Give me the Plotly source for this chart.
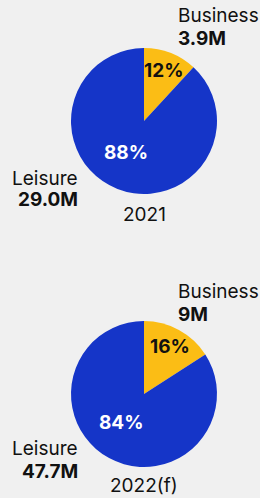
import math
import plotly.graph_objects as go

categories = ["Business", "Leisure"]
years = ["2021", "2022(f)"]
values_2021 = [3.9, 29.0]
values_2022 = [9.0, 47.7]
value_labels_2021 = ["3.9M", "29.0M"]
value_labels_2022 = ["9M", "47.7M"]
colors = ["#fbbd15", "#1535c8"]
pct_text_colors = ["#111111", "#ffffff"]

W, H = 260, 498
FONT = "Inter"

fig = go.Figure()

pies = [
    (values_2021, value_labels_2021, years[0], 121),
    (values_2022, value_labels_2022, years[1], 394),
]
R = 73
CX = 144

def ann(x, y, text, xanchor, bold=False, size=19, color="#111111"):
    fig.add_annotation(
        x=x / W, y=1 - y / H, xref="paper", yref="paper",
        text=f"<b>{text}</b>" if bold else text,
        showarrow=False, xanchor=xanchor, yanchor="middle",
        font=dict(family=FONT, size=size, color=color),
    )

for vals, labs, yr, cy in pies:
    fig.add_trace(go.Pie(
        labels=categories,
        values=vals,
        sort=False,
        direction="clockwise",
        rotation=0,
        marker=dict(colors=colors, line=dict(width=0)),
        textinfo="none",
        showlegend=False,
        hoverinfo="skip",
        domain=dict(x=[(CX - R) / W, (CX + R) / W], y=[1 - (cy + R) / H, 1 - (cy - R) / H]),
    ))
    total = sum(vals)
    start = 0.0
    for i, v in enumerate(vals):
        frac = v / total
        mid = start + frac * 180.0
        start += frac * 360.0
        if frac < 0.5:
            ang, rr = mid, 0.74
        else:
            ang, rr = mid + 9, 0.5
        a = math.radians(ang)
        x = CX + math.sin(a) * R * rr
        y = cy - math.cos(a) * R * rr
        ann(x, y, f"{round(frac * 100)}%", "center", bold=True, color=pct_text_colors[i])

# 2021 labels
ann(176, 16, categories[0], "left")
ann(176, 38, value_labels_2021[0], "left", bold=True)
ann(80, 178, categories[1], "right")
ann(80, 199, value_labels_2021[1], "right", bold=True)
ann(144, 214, years[0], "center")

# 2022 labels
ann(176, 291, categories[0], "left")
ann(176, 314, value_labels_2022[0], "left", bold=True)
ann(80, 448, categories[1], "right")
ann(80, 471, value_labels_2022[1], "right", bold=True)
ann(144, 485, years[1], "center")

fig.update_layout(
    width=W, height=H,
    margin=dict(l=0, r=0, t=0, b=0),
    paper_bgcolor="#f0f0f0",
    plot_bgcolor="#f0f0f0",
)

fig.write_html(
    "out.html",
    config={"displayModeBar": False},
    post_script="document.body.style.margin='0';document.body.style.background='#f0f0f0';",
)
